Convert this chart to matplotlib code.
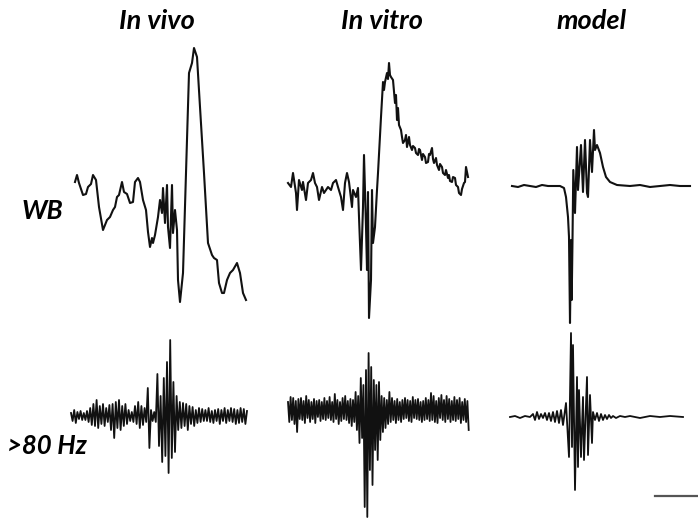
import matplotlib
matplotlib.use("Agg")
import matplotlib.pyplot as plt
import numpy as np

# ---- traces (time in arbitrary units, amplitude relative to baseline, up = positive)
vivo_wb_t = [0, 2, 4, 8, 11, 13, 16, 18, 21, 24, 28, 32, 35, 38, 40, 42, 44, 47, 49, 52,
             55, 58, 60, 63, 65, 68, 71, 73, 75, 77, 78, 80, 83, 85, 87, 88, 90, 92, 93, 95,
             97, 98, 100, 102, 103, 105, 108, 111, 114, 117, 119, 122, 125, 129, 133, 137,
             139, 142, 144, 147, 149, 152, 155, 158, 162, 165, 168, 171]
vivo_wb_v = [4, 11, 3, -9, -8, -1, 2, 11, 6, -21, -44, -34, -31, -24, -21, -11, -9, 4, -6, -8,
             -17, -16, 4, 8, 4, -14, -24, -46, -61, -52, -57, -49, -31, -14, -27, -2, -37, 1, -41, -62,
             1, -47, -24, -44, -94, -116, -87, 13, 113, 123, 138, 129, 79, 13, -57, -69,
             -72, -74, -97, -107, -107, -94, -87, -84, -77, -87, -107, -114]

vitro_wb_t = [0, 3, 5, 8, 9, 11, 14, 15, 18, 20, 23, 25, 27, 29, 31, 34, 36, 38, 40, 43,
              45, 48, 50, 53, 55, 57, 59, 61, 64, 65, 68, 70, 71, 73, 75, 76, 78, 79, 80, 81,
              83, 84, 85, 87, 89, 90, 93, 95,
              96, 97, 99, 100, 101, 102, 103, 105, 107, 108, 109, 110, 111, 113, 114, 115,
              117, 118, 119, 121, 122, 124, 125, 127, 128, 130, 131, 132, 134, 135, 137, 138,
              140, 141, 142, 144, 145, 146, 148, 149, 151, 152, 154, 155, 157, 158, 160, 161,
              162, 164, 165, 167, 168, 170, 171, 173, 174, 176, 177, 178, 180]
vitro_wb_v = [4, 0, 14, -6, -23, 7, -3, 5, -13, 4, 7, 14, 4, 0, -13, 0, -6, -3, 0, -3,
              4, 7, 0, -10, -23, 4, 14, 5, -20, -3, -10, -1, -30, -83, -20, 32, -40, -83, -5, -131,
              -93, -3, -56, -40, -3, 14, 70, 105,
              97, 105, 114, 108, 124, 112, 110, 107, 84, 92, 67, 79, 62, 57, 50, 44,
              47, 52, 40, 50, 42, 37, 41, 39, 34, 32, 38, 37, 27, 33, 30, 24,
              25, 33, 32, 39, 28, 24, 29, 22, 17, 23, 20, 14, 12, 17, 9, 12,
              6, 5, 10, 9, 2, 0, -6, -8, -2, 4, 5, 20, 10]

model_wb_t = [0, 6, 12, 18, 24, 30, 36, 42, 48, 52, 54, 56, 57, 58, 59, 59.7, 60.5, 61.3,
              63, 65, 66, 69, 71, 73, 75, 76, 78, 80, 82, 83, 85, 88, 91, 94, 98, 105,
              118, 128, 138, 148, 158, 168, 178]
model_wb_v = [0, -1, 1, 0, -1, 1, 0, 0, 0, -2, -11, -31, -51, -137, -54, -114, -54, 16,
              -27, 39, -4, 41, -6, 46, -7, -11, 46, 14, 56, 36, 41, 33, 19, 9, 4, 1,
              0, 1, -1, 0, 1, 0, 0]

# >80 Hz traces: successive extrema
vivo_hf = [3, -5, 6, -7, 4, -3, 5, -4, 3, -4, 5, -6, 8,
           -9, 12, -10, 16, -12, 10, -8, 12, -10, 8, -6,
           11, -14, 12, -22, 14, -12, 16, -14, 10, -10, 12, -8,
           6, -5, 4, -6, 10, -8, 14, -12, 10, -9,
           8, -6, 28, -32, 6, -5, 4, -6,
           42, -30, 20, -46, 38, -40, 54, -57, 76, -42, 34, -36, 20, -14,
           14, -12, 13, -10, 12, -14, 10, -8, 9, -10, 6, -7,
           8, -6, 7, -5, 6, -5, 8, -6, 5, -7,
           6, -5, 7, -8, 6, -5, 8, -7, 6, -5,
           8, -6, 7, -8, 6, -7, 8, -6, 7, -8, 5]

vitro_hf = [8, -12, 13, -10, 12, -14, 9, -22, 11, -9,
            12, -10, 9, -13, 14, -8, 10, -12, 8, -9,
            11, -13, 9, -7, 10, -11, 8, -9, 12, -10,
            9, -8, 13, -10, 8, -12, 16, -9, 10, -14,
            8, -11, 12, -9, 14, -10, 9, -13, 11, -16,
            10, -12, 18, -20, 14, -33, 32, -28, 25, -97,
            40, -107, 57, -60, 43, -75, 30, -40, 25, -50,
            28, -30, 14, -22, 12, -18, 10, -14, 18, -12,
            12, -10, 9, -13, 11, -10, 8, -12, 10, -9,
            12, -8, 10, -11, 9, -12, 13, -8, 10, -9,
            11, -10, 8, -12, 9, -10, 12, -9, 10, -11,
            17, -10, 14, -12, 9, -13, 12, -8, 15, -10,
            10, -12, 14, -9, 11, -12, 9, -10, 13, -11,
            10, -9, 12, -13, 8, -10, 11, -12, 9, -20]

model_hf_t = [0, 5, 10, 15, 20, 23, 25, 27, 29, 31, 33, 35, 37, 39, 41, 43, 45, 47, 49, 51,
              53, 56, 59, 61, 62, 63, 65, 67, 68, 69, 71, 73, 74, 77, 78, 80, 82, 83, 85, 87,
              89, 91, 93, 95, 97, 99, 101, 103, 106, 110, 115, 120, 130, 140, 150, 160, 173]
model_hf_v = [0, 1, -1, 1, 0, 3, -3, 5, -2, 3, -1, 4, -3, 4, -4, 5, -5, 6, -6, 7,
              -8, 14, -40, 84, -30, 72, -73, 40, -50, 27, -40, 20, -43, 40, -38, 22, -26, 5, -3, 4,
              -4, 3, -3, 2, -2, 2, -1, 1, -1, 1, 0, 1, -1, 1, 0, 1, 0]

col_titles = ["In vivo", "In vitro", "model"]
row_labels = ["WB", ">80 Hz"]

fig = plt.figure(figsize=(6.98, 5.18), dpi=100)
ax = fig.add_axes([0, 0, 1, 1])
ax.set_xlim(0, 698)
ax.set_ylim(518, 0)
ax.axis("off")

ink = "#111111"


def trace(t, v, x0, y0, lw=1.5):
    ax.plot(x0 + np.asarray(t, float), y0 - np.asarray(v, float), color=ink, lw=lw,
            solid_joinstyle="round")


trace(vivo_wb_t, vivo_wb_v, 75, 186)
trace(vitro_wb_t, vitro_wb_v, 288, 187)
trace(model_wb_t, model_wb_v, 512, 186)

trace(np.arange(len(vivo_hf)) * 1.6, vivo_hf, 71, 416, lw=1.3)
trace(np.arange(len(vitro_hf)) * 1.3, vitro_hf, 288, 410, lw=1.3)
trace(model_hf_t, model_hf_v, 510, 417, lw=1.3)

# scale bar
ax.plot([655, 698], [496, 496], color="#555555", lw=1.6)

font = dict(family="Lato", weight="bold", style="italic", color="black")
for x, s in zip([157, 382, 592], col_titles):
    ax.text(x, 21, s, ha="center", va="center", fontsize=19.5, **font)
ax.text(42, 211, row_labels[0], ha="center", va="center", fontsize=19, **font)
ax.text(47, 446, row_labels[1], ha="center", va="center", fontsize=18.5, **font)

fig.savefig("out.png", dpi=100)
